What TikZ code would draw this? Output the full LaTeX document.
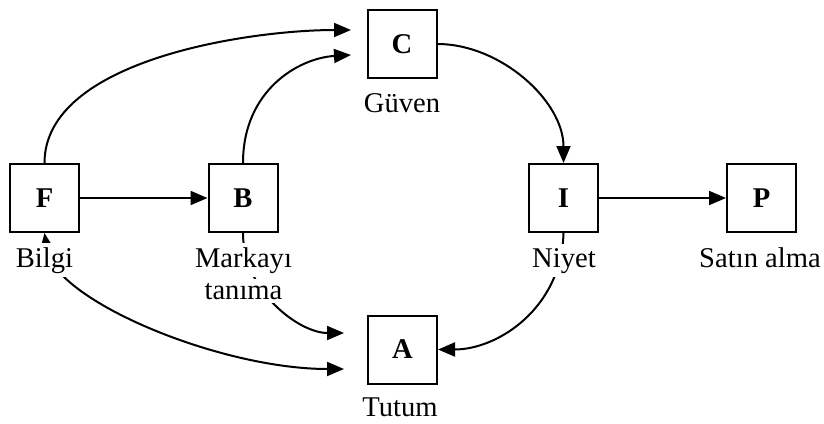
\documentclass[tikz,border=0pt]{standalone}
\usepackage{fontspec}
\setmainfont{Liberation Serif}
\usetikzlibrary{arrows.meta}
\tikzset{
  txt/.style={font=\fontsize{14.3}{16}\selectfont},
  box/.style={draw, line width=1pt, fill=white, minimum width=34.5pt,
    minimum height=34pt, inner sep=0pt, txt, font=\fontsize{14.3}{16}\selectfont\bfseries},
  lab/.style={txt, fill=white, inner sep=2pt, anchor=base},
  conn/.style={line width=1pt},
  arr/.style={conn, -{Triangle[length=8.5pt,width=7pt]}},
  dblarr/.style={conn, {Triangle[length=8.5pt,width=7pt]}-{Triangle[length=8.5pt,width=7pt]}}
}
\begin{document}
\begin{tikzpicture}[x=0.5pt,y=-0.5pt]
\useasboundingbox (0,0) rectangle (824,423);

% boxes
\node[box] (F) at (44.5,198) {F};
\node[box] (B) at (243,198) {B};
\node[box] (C) at (402,44) {C};
\node[box] (I) at (563.5,198) {I};
\node[box] (P) at (761.5,198) {P};
\node[box] (A) at (402.5,349.5) {A};

% free arrow ends in front of C and A
\coordinate (Cup) at ([shift={(-15.5,-14)}]C.west);
\coordinate (Clo) at ([shift={(-15.5,11)}]C.west);
\coordinate (Aup) at ([shift={(-23,-16.5)}]A.west);
\coordinate (Alo) at ([shift={(-23,19.5)}]A.west);

% connectors
\draw[arr] (F.east) -- (B.west);
\draw[arr] (I.east) -- (P.west);
\draw[arr] (F.north) .. controls +(0,-103) and +(-102,0) .. (Cup);
\draw[arr] (B.north) .. controls +(0,-73) and +(-52,3) .. (Clo);
\draw[arr] (C.east) .. controls +(63,0) and +(0,-62) .. (I.north);
\draw[dblarr] (F.south) .. controls +(10,67) and +(-125,0) .. (Alo);
\draw[arr] (B.south) .. controls +(0,58) and +(-45,0) .. (Aup);
\draw[arr] (I.south) .. controls +(-2,75) and +(60,0) .. (A.east);

% labels
\node[lab] (Fl) at (44.5,267) {Bilgi};
\node[lab] (Bl) at (243.5,267) {Markayı};
\node[lab] (Bl2) at (243.5,299) {tanıma};
\node[lab] (Cl) at (402,112) {Güven};
\node[lab] (Il) at (564,267) {Niyet};
\node[lab] (Pl) at (760,267) {Satın alma};
\node[lab] (Al) at (400,416) {Tutum};
\end{tikzpicture}
\end{document}
